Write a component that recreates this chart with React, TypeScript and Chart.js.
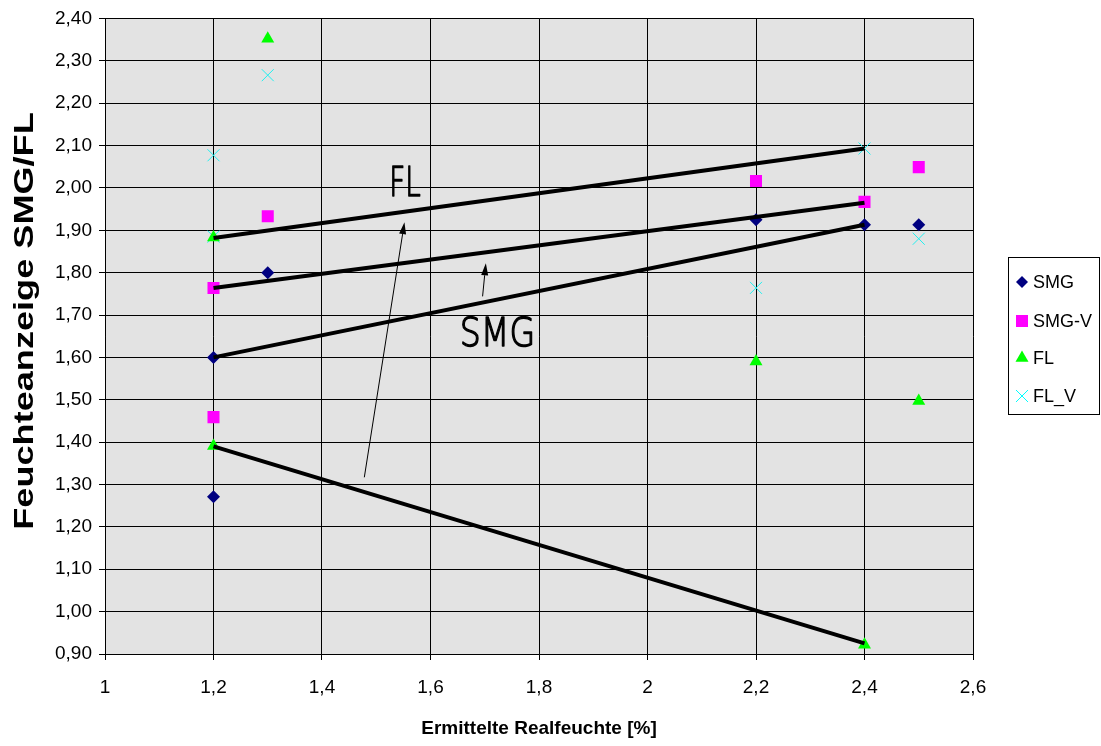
import React, { useEffect, useRef } from 'react';
import { Chart, registerables } from 'chart.js';

Chart.register(...registerables);

// ---- Data ----
const smgX = [1.2, 1.2, 1.3, 2.2, 2.4, 2.5];
const smgY = [1.271, 1.6, 1.8, 1.925, 1.913, 1.913];
const smgVX = [1.2, 1.2, 1.3, 2.2, 2.4, 2.5];
const smgVY = [1.764, 1.459, 1.933, 2.016, 1.967, 2.049];
const flX = [1.2, 1.2, 1.3, 2.2, 2.4, 2.5];
const flY = [1.883, 1.391, 2.352, 1.59, 0.922, 1.497];
const flVX = [1.2, 1.2, 1.3, 2.2, 2.4, 2.5];
const flVY = [2.077, 1.885, 2.266, 1.764, 2.093, 1.88];

const seriesNames = ['SMG', 'SMG-V', 'FL', 'FL_V'];

// trend lines (start/end)
const trendStartX = [1.2, 1.2, 1.2, 1.2];
const trendStartY = [1.882, 1.764, 1.6, 1.39];
const trendEndX = [2.4, 2.4, 2.4, 2.4];
const trendEndY = [2.093, 1.965, 1.913, 0.925];

// annotation arrows and labels (data coordinates)
const arrowFromX = [1.478, 1.696];
const arrowFromY = [1.317, 1.744];
const arrowToX = [1.552, 1.702];
const arrowToY = [1.919, 1.822];
const labelText = ['FL', 'SMG'];
const labelX = [1.524, 1.654];
const labelY = [1.98, 1.626];

const xMin = 1;
const xMax = 2.6;
const xStep = 0.2;
const yMin = 0.9;
const yMax = 2.4;
const yStep = 0.1;

const xTitle = 'Ermittelte Realfeuchte [%]';
const yTitle = 'Feuchteanzeige SMG/FL';

const pts = (xs: number[], ys: number[]) => xs.map((x, i) => ({ x, y: ys[i] }));

const FONT = "'Liberation Sans', Arial, sans-serif";

function drawMarker(ctx: CanvasRenderingContext2D, style: string, x: number, y: number, r: number, color: string) {
  ctx.save();
  ctx.fillStyle = color;
  ctx.strokeStyle = color;
  ctx.lineWidth = 1;
  ctx.beginPath();
  if (style === 'rectRot') {
    ctx.moveTo(x, y - r);
    ctx.lineTo(x + r, y);
    ctx.lineTo(x, y + r);
    ctx.lineTo(x - r, y);
    ctx.closePath();
    ctx.fill();
  } else if (style === 'rect') {
    const s = r * Math.SQRT1_2;
    ctx.rect(x - s, y - s, 2 * s, 2 * s);
    ctx.fill();
  } else if (style === 'triangle') {
    ctx.moveTo(x, y - r);
    ctx.lineTo(x + r * 0.866, y + r / 2);
    ctx.lineTo(x - r * 0.866, y + r / 2);
    ctx.closePath();
    ctx.fill();
  } else if (style === 'crossRot') {
    const s = r * Math.SQRT1_2;
    ctx.moveTo(x - s, y - s);
    ctx.lineTo(x + s, y + s);
    ctx.moveTo(x - s, y + s);
    ctx.lineTo(x + s, y - s);
    ctx.stroke();
  }
  ctx.restore();
}

const bgPlugin = {
  id: 'plotBg',
  beforeDraw(chart: any) {
    const { ctx, chartArea } = chart;
    ctx.save();
    ctx.fillStyle = '#E3E3E3';
    ctx.fillRect(chartArea.left, chartArea.top, chartArea.right - chartArea.left, chartArea.bottom - chartArea.top);
    ctx.restore();
  },
};

const annotPlugin = {
  id: 'annot',
  afterDraw(chart: any) {
    const { ctx } = chart;
    const xs = chart.scales.x;
    const ys = chart.scales.y;
    ctx.save();
    // arrows
    for (let i = 0; i < arrowFromX.length; i++) {
      const x1 = xs.getPixelForValue(arrowFromX[i]);
      const y1 = ys.getPixelForValue(arrowFromY[i]);
      const x2 = xs.getPixelForValue(arrowToX[i]);
      const y2 = ys.getPixelForValue(arrowToY[i]);
      const ang = Math.atan2(y2 - y1, x2 - x1);
      const hl = 12;
      const hw = 3.5;
      const bx = x2 - hl * Math.cos(ang);
      const by = y2 - hl * Math.sin(ang);
      ctx.strokeStyle = '#000';
      ctx.lineWidth = 1;
      ctx.beginPath();
      ctx.moveTo(x1, y1);
      ctx.lineTo(bx, by);
      ctx.stroke();
      ctx.fillStyle = '#000';
      ctx.beginPath();
      ctx.moveTo(x2, y2);
      ctx.lineTo(bx - hw * Math.sin(ang), by + hw * Math.cos(ang));
      ctx.lineTo(bx + hw * Math.sin(ang), by - hw * Math.cos(ang));
      ctx.closePath();
      ctx.fill();
    }
    // labels
    const sizes = [41, 39];
    const stretch = [0.68, 0.85];
    for (let i = 0; i < labelText.length; i++) {
      const px = xs.getPixelForValue(labelX[i]);
      const py = ys.getPixelForValue(labelY[i]);
      ctx.save();
      ctx.translate(px, py);
      ctx.scale(stretch[i], 1);
      ctx.font = `200 ${sizes[i]}px 'DejaVu Sans', ${FONT}`;
      ctx.fillStyle = '#000';
      ctx.strokeStyle = '#000';
      ctx.lineWidth = 1.4;
      ctx.lineJoin = 'round';
      ctx.textAlign = 'left';
      ctx.textBaseline = 'alphabetic';
      ctx.fillText(labelText[i], 0, 0);
      ctx.strokeText(labelText[i], 0, 0);
      ctx.restore();
    }

    // y title (stretched)
    ctx.save();
    ctx.translate(33, 321);
    ctx.rotate(-Math.PI / 2);
    ctx.scale(1.29, 1);
    ctx.font = `bold 28px ${FONT}`;
    ctx.fillStyle = '#000';
    ctx.textAlign = 'center';
    ctx.textBaseline = 'alphabetic';
    ctx.fillText(yTitle, 0, 0);
    ctx.restore();

    // legend
    const boxL = 1008.5, boxT = 257.5, boxW = 91, boxH = 157;
    ctx.strokeStyle = '#000';
    ctx.lineWidth = 1;
    ctx.strokeRect(boxL, boxT, boxW, boxH);
    const rows = [282, 321, 358, 396];
    let k = 0;
    chart.data.datasets.forEach((ds: any) => {
      if (!ds.isSeries) return;
      const ry = rows[k++];
      drawMarker(ctx, ds.pointStyle, 1022, ry, ds.legendRadius, ds.pointBackgroundColor || ds.borderColor);
      ctx.font = `18px ${FONT}`;
      ctx.fillStyle = '#000';
      ctx.textAlign = 'left';
      ctx.textBaseline = 'middle';
      ctx.fillText(ds.label, 1033, ry + 1);
    });
    ctx.restore();
  },
};

export default function App() {
  const ref = useRef<HTMLCanvasElement | null>(null);

  useEffect(() => {
    if (!ref.current) return;
    const lineSets = trendStartX.map((sx, i) => ({
      label: 'trend' + i,
      data: [
        { x: sx, y: trendStartY[i] },
        { x: trendEndX[i], y: trendEndY[i] },
      ],
      showLine: true,
      borderColor: '#000',
      borderWidth: 4,
      pointRadius: 0,
      fill: false,
      isSeries: false,
    }));
    const seriesSets = [
      { label: seriesNames[0], data: pts(smgX, smgY), pointStyle: 'rectRot', pointRadius: 6.5, legendRadius: 6, pointBackgroundColor: '#000080', pointBorderColor: '#000080', borderColor: '#000080', pointBorderWidth: 0, showLine: false, isSeries: true },
      { label: seriesNames[1], data: pts(smgVX, smgVY), pointStyle: 'rect', pointRadius: 8.5, legendRadius: 8.5, pointBackgroundColor: '#FF00FF', pointBorderColor: '#FF00FF', borderColor: '#FF00FF', pointBorderWidth: 0, showLine: false, isSeries: true },
      { label: seriesNames[2], data: pts(flX, flY), pointStyle: 'triangle', pointRadius: 7.5, legendRadius: 7.5, pointBackgroundColor: '#00FF00', pointBorderColor: '#00FF00', borderColor: '#00FF00', pointBorderWidth: 0, showLine: false, isSeries: true },
      { label: seriesNames[3], data: pts(flVX, flVY), pointStyle: 'crossRot', pointRadius: 8.5, legendRadius: 8.5, pointBackgroundColor: '#00FFFF', pointBorderColor: '#22F0F0', borderColor: '#22F0F0', pointBorderWidth: 1, showLine: false, isSeries: true },
    ];

    const chart = new Chart(ref.current, {
      type: 'scatter',
      data: { datasets: [...lineSets, ...seriesSets] as any },
      options: {
        animation: false,
        responsive: false,
        devicePixelRatio: 1,
        events: [],
        layout: { padding: { left: 0, top: 17, right: 128, bottom: 0 } },
        plugins: { legend: { display: false }, tooltip: { enabled: false } },
        scales: {
          x: {
            type: 'linear',
            min: xMin,
            max: xMax,
            afterFit: (s: any) => { s.height = 92; },
            ticks: {
              stepSize: xStep,
              maxRotation: 0,
              autoSkip: false,
              padding: 16,
              color: '#000',
              font: { family: FONT, size: 19 },
              callback: (v: any) => String(Math.round(Number(v) * 10) / 10).replace('.', ','),
            },
            grid: { color: '#000', lineWidth: 1, drawTicks: true, tickLength: 6, tickColor: '#000' },
            border: { display: true, color: '#000', width: 1 },
            title: {
              display: true,
              text: xTitle,
              color: '#000',
              font: { family: FONT, size: 19, weight: 'bold' },
              padding: { top: 0, bottom: 6 },
            },
          },
          y: {
            type: 'linear',
            min: yMin,
            max: yMax,
            afterFit: (s: any) => { s.width = 105; },
            ticks: {
              stepSize: yStep,
              padding: 7,
              color: '#000',
              font: { family: FONT, size: 19 },
              callback: (v: any) => Number(v).toFixed(2).replace('.', ','),
            },
            grid: { color: '#000', lineWidth: 1, drawTicks: true, tickLength: 6, tickColor: '#000' },
            border: { display: true, color: '#000', width: 1 },
            title: { display: false },
          },
        },
      } as any,
      plugins: [bgPlugin, annotPlugin],
    });
    return () => chart.destroy();
  }, []);

  return (
    <div style={{ position: 'absolute', left: 0, top: 0, width: 1101, height: 746, background: '#fff' }}>
      <canvas ref={ref} width={1101} height={746} style={{ display: 'block' }} />
    </div>
  );
}
